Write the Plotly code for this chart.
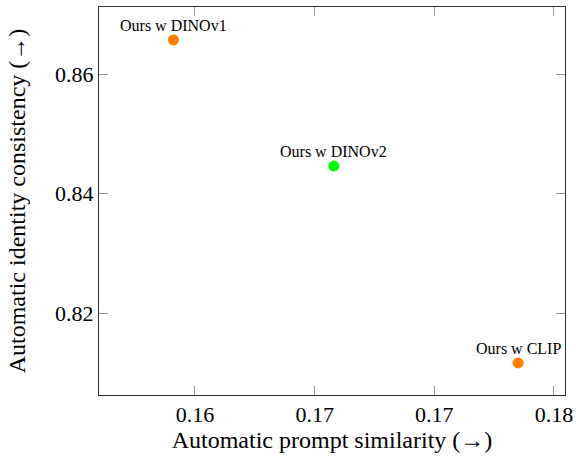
import plotly.graph_objects as go

names = ["Ours w DINOv1", "Ours w DINOv2", "Ours w CLIP"]
prompt_sim = [0.1591, 0.1658, 0.1735]
identity = [0.8657, 0.8446, 0.8117]
colors = ["#ff8000", "#00ff00", "#ff8000"]

x_tickvals = [0.16, 0.165, 0.17, 0.175]
x_ticktext = ["0.16", "0.17", "0.17", "0.18"]
y_tickvals = [0.82, 0.84, 0.86]
y_ticktext = ["0.82", "0.84", "0.86"]

serif = "Liberation Serif"

fig = go.Figure()
fig.add_trace(go.Scatter(
    x=prompt_sim, y=identity, mode="markers",
    marker=dict(color=colors, size=11, line=dict(width=0)),
    showlegend=False, cliponaxis=False,
))
for name, xv, yv in zip(names, prompt_sim, identity):
    fig.add_annotation(x=xv, y=yv, text=name, showarrow=False,
                       xanchor="center", yanchor="bottom", yshift=4,
                       font=dict(family=serif, size=16, color="black"))

axis_common = dict(
    showgrid=False, zeroline=False, showline=True, linecolor="#333333",
    linewidth=1, mirror="ticks", ticks="inside", ticklen=9, tickcolor="#999999",
    tickwidth=1, tickfont=dict(family=serif, size=22, color="black"),
    automargin=False,
)

fig.update_layout(
    width=576, height=459,
    margin=dict(l=99, r=11, t=7, b=64),
    paper_bgcolor="white", plot_bgcolor="white",
    xaxis=dict(range=[0.15599, 0.17546], tickvals=x_tickvals, ticktext=x_ticktext,
               title=dict(text="Automatic prompt similarity (→)",
                          font=dict(family=serif, size=24, color="black"), standoff=4),
               **axis_common),
    yaxis=dict(range=[0.80634, 0.8712], tickvals=y_tickvals, ticktext=y_ticktext,
               title=dict(text="Automatic identity consistency (→)",
                          font=dict(family=serif, size=24, color="black"), standoff=22),
               **axis_common),
)

fig.write_html("out.html", config={"displayModeBar": False},
               post_script="document.body.style.margin='0';")
